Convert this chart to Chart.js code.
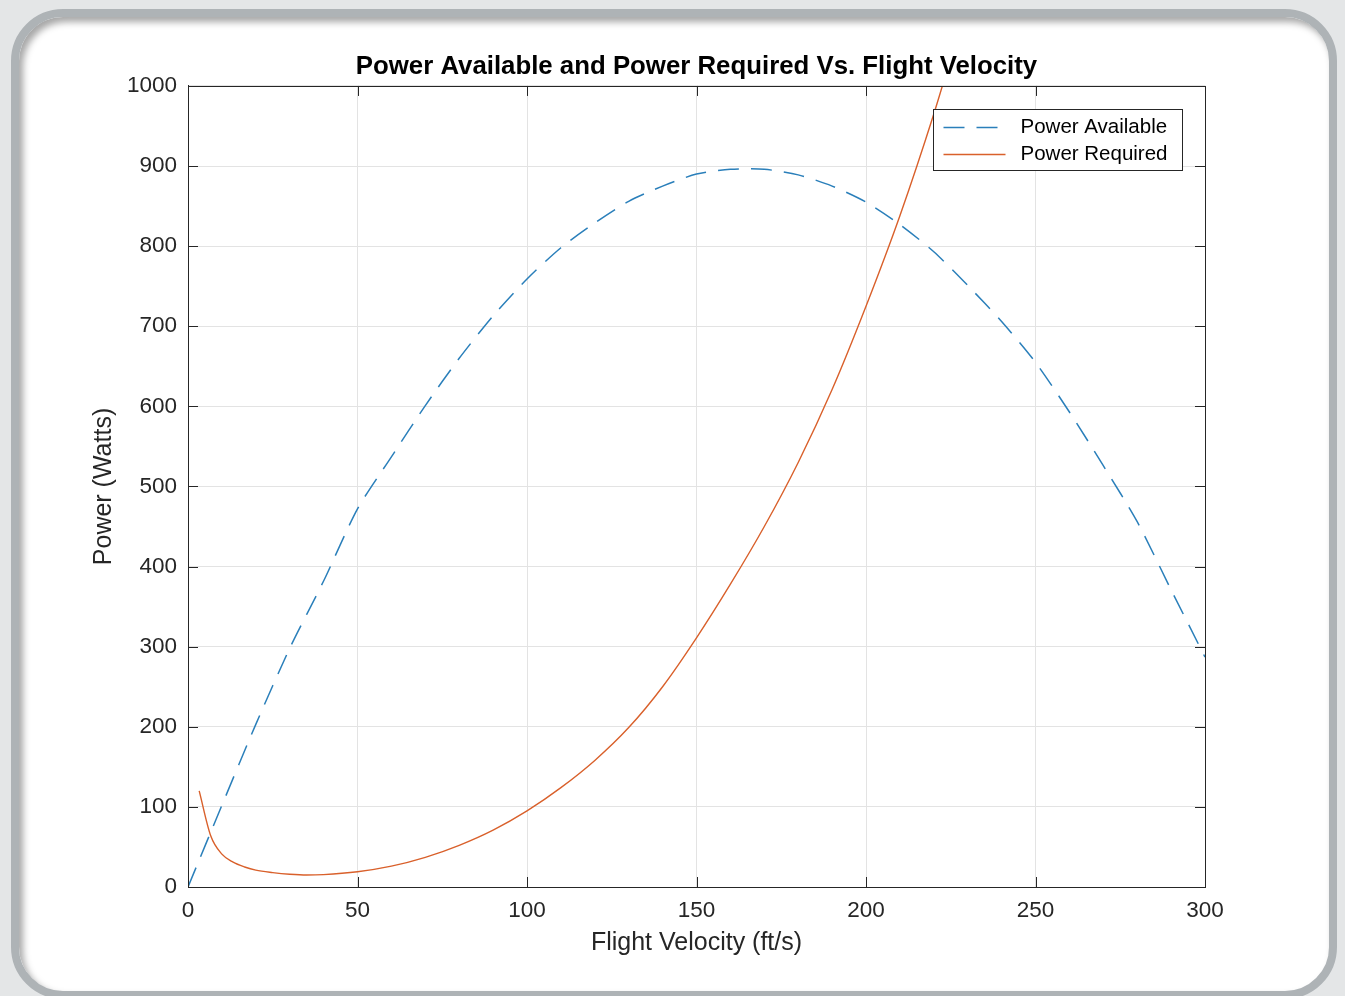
<!DOCTYPE html>
<html>
<head>
<meta charset="utf-8">
<title>Power Available and Power Required</title>
<script src="https://cdn.jsdelivr.net/npm/chart.js"></script>
<style>
    html, body { margin: 0; padding: 0; }
    body {
        width: 1345px; height: 996px; overflow: hidden; position: relative;
        background: #e4e6e7;
    }
    /* rounded window frame around the figure */
    .frame {
        position: absolute; left: 11px; top: 9px; width: 1326px; height: 990px;
        box-sizing: border-box; border: 8px solid #aeb3b6; border-radius: 52px;
        background: #fff; box-shadow: inset 4px 5px 7px rgba(0, 0, 0, 0.35);
    }
    #chart { position: absolute; left: 0; top: 0; }
</style>
</head>
<body>
<div class="frame"></div>
<canvas id="chart" width="1345" height="996"></canvas>
<script>
// values
const velocityAvail = [0, 10, 20, 30, 40, 50, 60, 70, 80, 90, 100, 110, 120, 130, 140, 150,
    160, 170, 180, 190, 200, 210, 220, 230, 240, 250, 260, 270, 280, 290, 300];
const powerAvail = [0, 102, 203, 298, 382, 472, 537, 601, 660, 713, 759, 798, 829, 856, 875, 890,
    896, 896, 889, 875, 855, 827, 793, 751, 706, 655, 593, 526, 456, 371, 287];

const velocityReq = [3.3, 6.7, 10, 13.3, 16.7, 20, 25, 30, 35, 40, 50, 60, 70, 80, 90, 100,
    110, 120, 130, 140, 150, 160, 170, 180, 190, 200, 210, 220, 225];
const powerReq = [120, 64, 41, 31, 25, 21, 18, 16, 15, 15.5, 19, 26, 37, 52, 71, 95,
    124, 158, 199, 250, 311, 378, 450, 530, 621, 725, 838, 965, 1035];

const xTicks = [0, 50, 100, 150, 200, 250, 300];
const yTicks = [0, 100, 200, 300, 400, 500, 600, 700, 800, 900, 1000];

const FONT = '"Liberation Sans", Arial, Helvetica, sans-serif';
const AXIS = '#262626';
const BLUE = '#2a7fba';
const RED = '#d9602b';
Chart.defaults.font.family = FONT;

// MATLAB style box: ticks inside on all four sides
const boxTicks = {
    id: 'boxTicks',
    afterDatasetsDraw(chart) {
        const { ctx, chartArea: a, scales: { x, y } } = chart;
        ctx.save();
        ctx.strokeStyle = AXIS;
        ctx.lineWidth = 1;
        ctx.beginPath();
        x.ticks.forEach(t => {
            const px = Math.round(x.getPixelForValue(t.value)) + 0.5;
            ctx.moveTo(px, a.bottom); ctx.lineTo(px, a.bottom - 10);
            ctx.moveTo(px, a.top); ctx.lineTo(px, a.top + 10);
        });
        y.ticks.forEach(t => {
            const py = Math.round(y.getPixelForValue(t.value)) + 0.5;
            ctx.moveTo(a.left, py); ctx.lineTo(a.left + 10, py);
            ctx.moveTo(a.right, py); ctx.lineTo(a.right - 10, py);
        });
        ctx.stroke();
        ctx.strokeRect(Math.round(a.left) + 0.5, Math.round(a.top) + 0.5,
            Math.round(a.right - a.left), Math.round(a.bottom - a.top));
        ctx.restore();
    }
};

// legend box in the top right corner of the axes
const legendBox = {
    id: 'legendBox',
    afterDraw(chart) {
        const { ctx, chartArea: a } = chart;
        const w = 249, h = 61;
        const left = Math.round(a.right) - 23 - w + 0.5;
        const top = Math.round(a.top) + 23 + 0.5;
        ctx.save();
        ctx.fillStyle = '#fff';
        ctx.fillRect(left, top, w, h);
        ctx.strokeStyle = AXIS;
        ctx.lineWidth = 1;
        ctx.strokeRect(left, top, w, h);

        chart.data.datasets.forEach((ds, i) => {
            const yy = top + 18 + i * 27;
            ctx.beginPath();
            ctx.strokeStyle = ds.borderColor;
            ctx.lineWidth = 1.5;
            ctx.setLineDash(ds.borderDash || []);
            ctx.moveTo(left + 10, yy);
            ctx.lineTo(left + 72, yy);
            ctx.stroke();
            ctx.setLineDash([]);
            ctx.fillStyle = '#000';
            ctx.font = '20.5px ' + FONT;
            ctx.textBaseline = 'middle';
            ctx.fillText(ds.label, left + 87, yy);
        });
        ctx.restore();
    }
};

new Chart(document.getElementById('chart'), {
    type: 'line',
    data: {
        datasets: [
            {
                label: 'Power Available',
                data: velocityAvail.map((v, i) => ({ x: v, y: powerAvail[i] })),
                borderColor: BLUE,
                borderWidth: 1.5,
                borderDash: [21, 12],
                pointRadius: 0,
                tension: 0.25,
                fill: false
            },
            {
                label: 'Power Required',
                data: velocityReq.map((v, i) => ({ x: v, y: powerReq[i] })),
                borderColor: RED,
                borderWidth: 1.4,
                pointRadius: 0,
                cubicInterpolationMode: 'monotone',
                fill: false
            }
        ]
    },
    options: {
        responsive: false,
        animation: false,
        layout: { padding: { left: 0, top: 0, right: 140, bottom: 0 } },
        plugins: {
            legend: { display: false },
            tooltip: { enabled: false },
            title: {
                display: true,
                text: 'Power Available and Power Required Vs. Flight Velocity',
                fullSize: false,
                color: '#000',
                font: { size: 25.8, weight: 'bold' },
                padding: { top: 51, bottom: 4 }
            }
        },
        scales: {
            x: {
                type: 'linear',
                min: 0,
                max: 300,
                afterBuildTicks: s => { s.ticks = xTicks.map(v => ({ value: v })); },
                ticks: { padding: 10, color: AXIS, font: { size: 22.5 }, callback: v => String(v) },
                grid: { color: '#e3e3e3', drawTicks: false },
                border: { color: AXIS, width: 1 },
                title: {
                    display: true,
                    text: 'Flight Velocity (ft/s)',
                    color: AXIS,
                    font: { size: 25 },
                    padding: { top: 0, bottom: 38 }
                },
                afterFit: s => { s.height = 109; }
            },
            y: {
                type: 'linear',
                min: 0,
                max: 1000,
                afterBuildTicks: s => { s.ticks = yTicks.map(v => ({ value: v })); },
                ticks: { padding: 11, color: AXIS, font: { size: 22.5 }, callback: v => String(v) },
                grid: { color: '#e3e3e3', drawTicks: false },
                border: { color: AXIS, width: 1 },
                title: {
                    display: true,
                    text: 'Power (Watts)',
                    color: AXIS,
                    font: { size: 25 },
                    padding: { top: 89, bottom: 0 }
                },
                afterFit: s => { s.width = 188; }
            }
        }
    },
    plugins: [boxTicks, legendBox]
});
</script>
</body>
</html>
